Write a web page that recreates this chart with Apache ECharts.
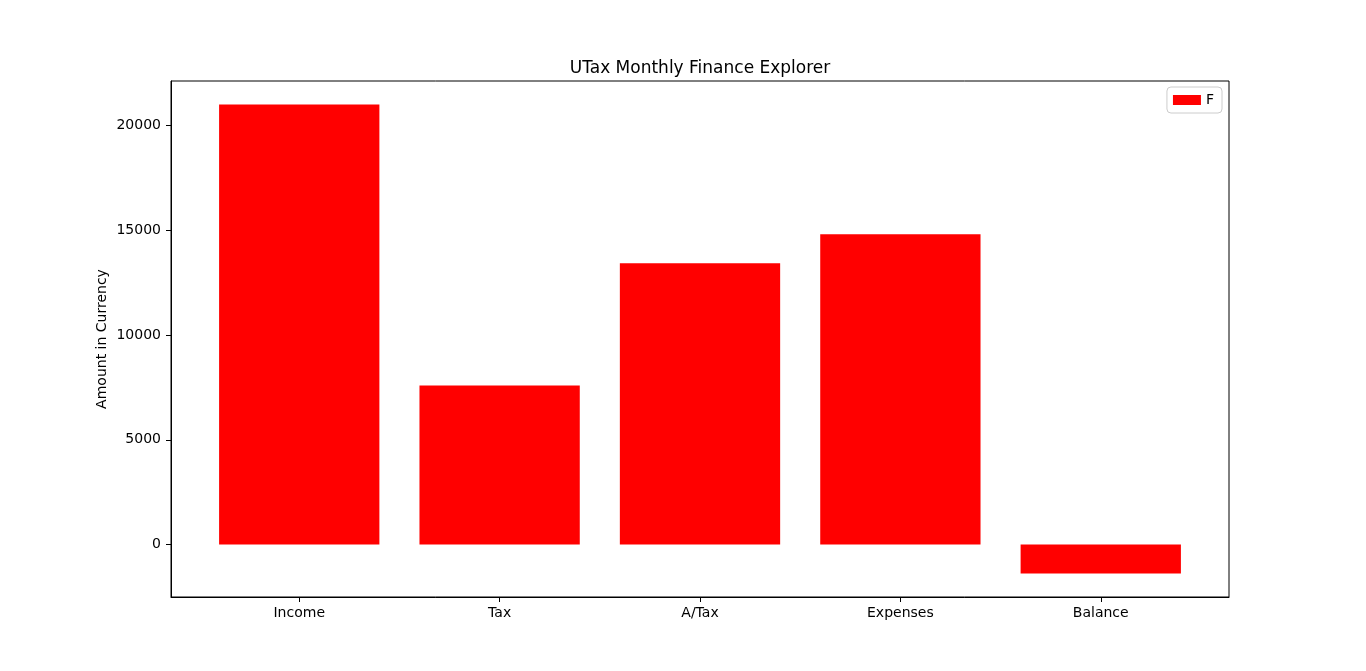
<!DOCTYPE html>
<html>
<head>
<meta charset="utf-8">
<script src="https://cdn.jsdelivr.net/npm/echarts@6/dist/echarts.min.js"></script>
<style>
html,body{margin:0;padding:0;background:#fff;}
#chart{width:1366px;height:671px;}
</style>
</head>
<body>
<div id="chart"></div>
<script>
const categories = ['Income', 'Tax', 'A/Tax', 'Expenses', 'Balance'];
const values = [21000, 7590, 13420, 14810, -1380];
const yTicks = [0, 5000, 10000, 15000, 20000];
const seriesName = 'F';
const chartTitle = 'UTax Monthly Finance Explorer';
const yAxisName = 'Amount in Currency';

const barHalf = 0.4;
const dMin = Math.min(0, ...values), dMax = Math.max(0, ...values);
const ySpan = dMax - dMin;
const yMin = dMin - 0.05 * ySpan, yMax = dMax + 0.05 * ySpan;
const xLo = -barHalf, xHi = categories.length - 1 + barHalf;
const xSpan = xHi - xLo;
const xMin = xLo - 0.05 * xSpan, xMax = xHi + 0.05 * xSpan;

const font = 'DejaVu Sans';
const chart = echarts.init(document.getElementById('chart'), null, {renderer: 'canvas'});
chart.setOption({
  animation: false,
  backgroundColor: '#ffffff',
  title: {
    text: chartTitle, left: 695, top: 55, textAlign: 'center',
    textStyle: {fontFamily: font, fontSize: 17, fontWeight: 'normal', color: '#000'}
  },
  legend: {
    right: 144, top: 87, orient: 'vertical',
    padding: [6, 8, 6, 6], borderColor: '#cccccc', borderWidth: 1, borderRadius: 4,
    itemWidth: 28, itemHeight: 10, icon: 'rect',
    textStyle: {fontFamily: font, fontSize: 14, color: '#000'},
    data: [seriesName]
  },
  grid: {left: 171, right: 137, top: 81, bottom: 74, show: true, borderColor: '#000', borderWidth: 1, containLabel: false},
  xAxis: {
    type: 'value', min: xMin, max: xMax,
    splitLine: {show: false},
    axisLine: {show: true, onZero: false, lineStyle: {color: '#000', width: 1}},
    axisTick: {show: true, customValues: categories.map((c, i) => i), length: 5, lineStyle: {color: '#000'}},
    axisLabel: {
      customValues: categories.map((c, i) => i), margin: 9,
      formatter: v => categories[Math.round(v)] || '',
      fontFamily: font, fontSize: 14, color: '#000'
    }
  },
  yAxis: {
    type: 'value', min: yMin, max: yMax,
    name: yAxisName, nameLocation: 'middle', nameGap: 62, nameRotate: 90, nameMoveOverlap: false,
    nameTextStyle: {fontFamily: font, fontSize: 14, color: '#000'},
    splitLine: {show: false},
    axisLine: {show: true, onZero: false, lineStyle: {color: '#000', width: 1}},
    axisTick: {show: true, customValues: yTicks, length: 5, lineStyle: {color: '#000'}},
    axisLabel: {customValues: yTicks, margin: 10, formatter: v => String(v), fontFamily: font, fontSize: 14, color: '#000'}
  },
  series: [{
    name: seriesName,
    type: 'custom',
    itemStyle: {color: '#ff0000'},
    encode: {x: 0, y: 1},
    data: values.map((v, i) => [i, v]),
    renderItem: function (params, api) {
      const i = api.value(0), v = api.value(1);
      const p0 = api.coord([i - barHalf, 0]);
      const p1 = api.coord([i + barHalf, v]);
      return {
        type: 'rect',
        shape: {x: p0[0], y: Math.min(p0[1], p1[1]), width: p1[0] - p0[0], height: Math.abs(p1[1] - p0[1])},
        style: {fill: '#ff0000'}
      };
    }
  }]
});
</script>
</body>
</html>
